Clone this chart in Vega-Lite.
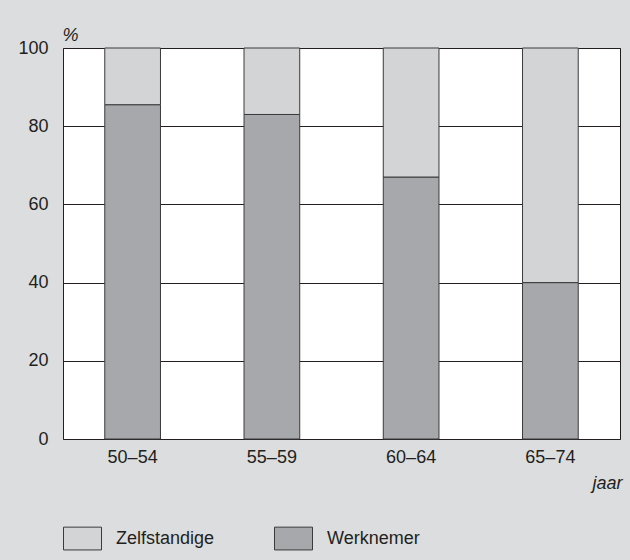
{
  "$schema": "https://vega.github.io/schema/vega-lite/v6.json",
  "autosize": "none",
  "width": 557,
  "height": 391,
  "padding": {"left": 63, "top": 48, "right": 10, "bottom": 121},
  "background": "#dcdddf",
  "config": {
    "font": "Liberation Sans",
    "view": {"fill": "#ffffff", "stroke": "#231f20", "strokeWidth": 1},
    "axis": {"labelFont": "Liberation Sans", "labelFontSize": 18, "labelColor": "#231f20", "titleColor": "#231f20", "titleFont": "Liberation Sans"}
  },
  "data": {
    "values": [
      {"leeftijd": "50–54", "type": "Werknemer", "pct": 85.5, "ord": 1},
      {"leeftijd": "50–54", "type": "Zelfstandige", "pct": 14.5, "ord": 2},
      {"leeftijd": "55–59", "type": "Werknemer", "pct": 83, "ord": 1},
      {"leeftijd": "55–59", "type": "Zelfstandige", "pct": 17, "ord": 2},
      {"leeftijd": "60–64", "type": "Werknemer", "pct": 67, "ord": 1},
      {"leeftijd": "60–64", "type": "Zelfstandige", "pct": 33, "ord": 2},
      {"leeftijd": "65–74", "type": "Werknemer", "pct": 40, "ord": 1},
      {"leeftijd": "65–74", "type": "Zelfstandige", "pct": 60, "ord": 2}
    ]
  },
  "mark": {"type": "bar", "stroke": "#3a3a3c", "strokeWidth": 1},
  "encoding": {
    "x": {
      "field": "leeftijd", "type": "nominal",
      "scale": {"paddingInner": 0.6, "paddingOuter": 0.3},
      "axis": {
        "title": "jaar", "titleFontStyle": "italic", "titleFontWeight": "normal", "titleFontSize": 18,
        "titleAlign": "right", "titleBaseline": "alphabetic", "titleX": 559, "titleY": 49,
        "labelAngle": 0, "ticks": false, "domain": false, "labelPadding": 9, "labelBaseline": "top"
      }
    },
    "y": {
      "field": "pct", "type": "quantitative", "stack": "zero",
      "scale": {"domain": [0, 100], "nice": false},
      "axis": {
        "values": [0, 20, 40, 60, 80, 100],
        "title": "%", "titleAngle": 0, "titleFontStyle": "italic", "titleFontWeight": "normal", "titleFontSize": 18,
        "titleAlign": "left", "titleBaseline": "alphabetic", "titleX": -1, "titleY": -8,
        "ticks": false, "domain": false, "labelPadding": 15,
        "grid": true, "gridColor": "#231f20", "gridOpacity": 1, "gridWidth": 1
      }
    },
    "color": {
      "field": "type", "type": "nominal",
      "scale": {"domain": ["Zelfstandige", "Werknemer"], "range": ["#d3d4d6", "#a7a8ab"]},
      "legend": {
        "title": null, "orient": "none", "direction": "horizontal",
        "legendX": 0, "legendY": 471,
        "symbolType": "M-1,-0.6L1,-0.6L1,0.6L-1,0.6Z", "symbolSize": 1444,
        "symbolStrokeColor": "#3a3a3c", "symbolStrokeWidth": 1, "symbolOpacity": 1,
        "labelFontSize": 18, "labelColor": "#231f20", "labelOffset": 14, "columnPadding": 57,
        "encode": {"symbols": {"update": {
          "fill": {"signal": "datum.label === 'Werknemer' ? '#959699' : '#d3d4d6'"},
          "fillOpacity": {"value": 1},
          "stroke": {"value": "#3a3a3c"},
          "strokeWidth": {"value": 1}
        }}}
      }
    },
    "order": {"field": "ord", "type": "quantitative"}
  }
}
